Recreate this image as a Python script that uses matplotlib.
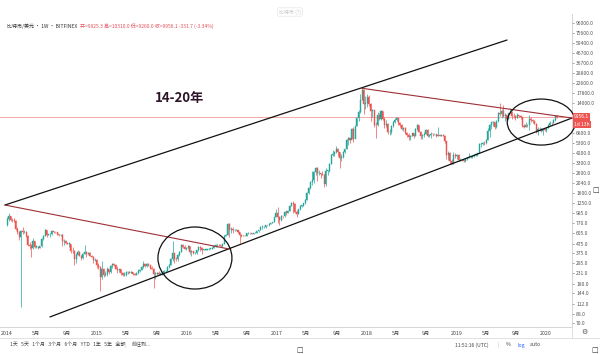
import numpy as np
import pandas as pd
import matplotlib
matplotlib.use('Agg')
import matplotlib.pyplot as plt
import matplotlib.dates as mdates
from matplotlib.patches import Ellipse
from matplotlib.lines import Line2D

plt.rcParams['font.family'] = ['Noto Sans CJK SC', 'DejaVu Sans']

# ---------------- data (weekly BTC/USD, Bitfinex) ----------------
first_week = '2013-12-30'
open_first = 740.0

close_2014 = [850, 920, 840, 830, 820, 680, 620, 560, 640, 630, 630, 565, 460, 450, 430, 500, 440, 440,
              430, 445, 530, 570, 650, 590, 595, 600, 635, 625, 620, 595, 585, 590, 500, 500, 480, 475,
              475, 400, 395, 330, 360, 390, 355, 335, 365, 385, 365, 375, 350, 345, 320, 320]
high_2014 = [890, 1000, 930, 880, 870, 830, 710, 640, 660, 700, 650, 640, 590, 490, 465, 540, 510, 455,
             450, 450, 540, 590, 670, 660, 600, 610, 650, 640, 630, 630, 600, 600, 595, 525, 515, 490,
             490, 475, 440, 410, 375, 410, 395, 360, 380, 460, 400, 390, 385, 360, 350, 335]
low_2014 = [730, 820, 820, 790, 790, 660, 600, 520, 102, 600, 610, 550, 450, 420, 340, 420, 430, 425,
            420, 430, 440, 520, 565, 560, 580, 550, 590, 610, 605, 590, 570, 575, 450, 460, 470, 465,
            440, 380, 380, 280, 300, 360, 350, 320, 330, 370, 345, 365, 350, 340, 300, 315]

close_2015 = [280, 270, 210, 255, 225, 230, 260, 240, 275, 290, 285, 260, 250, 255, 235, 225, 225, 240,
              240, 235, 240, 230, 225, 235, 245, 250, 270, 290, 275, 290, 280, 265, 260, 230, 230, 235,
              230, 230, 235, 245, 245, 270, 285, 325, 380, 330, 325, 360, 390, 455, 440, 420]
high_2015 = [325, 300, 275, 310, 265, 245, 270, 260, 280, 300, 300, 290, 275, 260, 260, 240, 240, 245,
             245, 245, 245, 240, 235, 240, 255, 255, 275, 310, 295, 295, 295, 285, 275, 265, 240, 240,
             245, 235, 240, 250, 250, 275, 290, 335, 500, 380, 340, 365, 400, 465, 470, 460]
low_2015 = [265, 260, 152, 200, 210, 215, 215, 230, 235, 265, 275, 255, 235, 240, 220, 215, 215, 215,
            230, 232, 232, 225, 220, 222, 230, 240, 250, 265, 270, 270, 275, 260, 255, 162, 200, 225,
            225, 225, 225, 230, 240, 245, 265, 280, 315, 300, 310, 315, 355, 385, 430, 415]

close_2016 = [430, 450, 385, 400, 375, 375, 405, 440, 430, 410, 410, 410, 415, 420, 420, 430, 450, 460,
              460, 455, 445, 470, 575, 580, 760, 660, 670, 650, 660, 660, 620, 590, 570, 575, 570, 605,
              605, 605, 600, 615, 615, 640, 655, 700, 700, 700, 740, 735, 765, 775, 790, 895]
high_2016 = [440, 460, 450, 410, 400, 390, 410, 445, 445, 440, 420, 420, 420, 425, 425, 432, 455, 470,
             465, 465, 460, 480, 585, 600, 780, 770, 700, 705, 675, 670, 665, 630, 600, 585, 585, 610,
             630, 612, 610, 618, 620, 645, 660, 720, 740, 720, 750, 750, 770, 780, 795, 900]
low_2016 = [405, 420, 370, 355, 370, 365, 370, 400, 400, 370, 405, 405, 408, 410, 415, 418, 428, 440,
            440, 445, 435, 440, 465, 570, 580, 550, 610, 610, 640, 650, 610, 480, 560, 565, 565, 565,
            600, 600, 595, 595, 605, 610, 630, 650, 680, 690, 690, 725, 725, 755, 770, 790]

close_2017 = [1000, 910, 830, 925, 920, 1020, 1000, 1050, 1170, 1270, 1230, 1020, 970, 1080, 1180, 1180,
              1250, 1370, 1600, 1800, 2100, 2200, 2650, 2950, 2600, 2600, 2550, 2500, 1990, 2750, 2750,
              3250, 4000, 4100, 4350, 4600, 4300, 3700, 3800, 4350, 4600, 5700, 6000, 5750, 7400, 5950,
              8000, 9700, 11300, 15200, 19100, 13800]
high_2017 = [1100, 1150, 930, 935, 930, 1040, 1060, 1060, 1200, 1290, 1330, 1250, 1070, 1100, 1200, 1210,
             1260, 1380, 1640, 1850, 2150, 2700, 2700, 3000, 2980, 2800, 2600, 2700, 2550, 2950, 2800,
             3300, 4100, 4500, 4400, 4980, 4700, 4350, 4100, 4400, 4650, 5850, 6200, 6100, 7600, 7900,
             8050, 9750, 11800, 17200, 19900, 19400]
low_2017 = [890, 770, 750, 820, 880, 910, 940, 990, 1050, 1160, 1000, 1000, 900, 960, 1070, 1150,
            1170, 1240, 1350, 1550, 1750, 1950, 2050, 2500, 2150, 2450, 2300, 2450, 1850, 1900, 2450,
            2650, 3200, 3950, 3900, 4250, 3900, 2950, 3500, 3700, 4150, 4600, 5100, 5400, 5950, 5500,
            6000, 8000, 9000, 11100, 15000, 10700]

close_2018 = [14000, 16200, 13700, 11600, 11700, 8300, 8200, 10500, 9600, 11500, 9600, 8200, 8500, 6900,
              7000, 8000, 8900, 9400, 9700, 8700, 8200, 7400, 7700, 6800, 6500, 6150, 6400, 6750, 6350,
              7400, 8200, 7000, 6300, 6500, 6700, 7300, 6250, 6500, 6700, 6600, 6600, 6300, 6500, 6400,
              6450, 6400, 5600, 4000, 4150, 3500, 3250, 4000]
high_2018 = [16500, 17300, 17000, 14000, 12000, 11900, 8800, 11200, 11100, 11700, 11600, 9900, 9200, 8600,
             7500, 8200, 9000, 9800, 9900, 9800, 8900, 8400, 7800, 7800, 6900, 6800, 6500, 6800, 6800,
             7700, 8500, 8300, 7200, 6600, 6900, 7400, 7400, 6600, 6900, 6800, 6700, 6700, 7800, 6600,
             6550, 6600, 6500, 5600, 4450, 4300, 3600, 4300]
low_2018 = [12000, 12800, 12900, 9000, 10000, 7800, 6000, 8100, 9300, 9300, 9200, 7700, 7900, 6600,
            6500, 6600, 7800, 8600, 9000, 8300, 7900, 7300, 7050, 6600, 6150, 5800, 5800, 6400, 6100,
            6300, 7300, 6900, 5900, 5900, 6200, 6600, 6150, 6200, 6100, 6350, 6450, 6150, 6300, 6350,
            6300, 6300, 5300, 3600, 3550, 3250, 3200, 3200]

close_2019 = [3900, 4050, 3550, 3550, 3550, 3450, 3650, 3700, 3850, 3850, 3950, 4050, 4050, 4150, 5200,
              5200, 5350, 5300, 5800, 7100, 8250, 8800, 8800, 7800, 9050, 10900, 10800, 11500, 10300,
              10600, 9500, 11000, 11400, 10300, 10150, 9800, 10400, 10300, 10000, 8100, 7950, 8300, 8250,
              9500, 9300, 9050, 8500, 7000, 7400, 7500, 7100, 7500]
high_2019 = [4250, 4100, 4100, 3750, 3650, 3600, 3700, 3720, 4200, 3950, 3980, 4060, 4100, 4200, 5400,
             5500, 5450, 5650, 5900, 7600, 8400, 8950, 9100, 8800, 9400, 11300, 13900, 12100, 13200,
             11100, 10600, 11100, 12300, 11500, 10950, 10600, 10900, 10450, 10400, 10050, 8500, 8800, 8400,
             10500, 9950, 9550, 9250, 8600, 7850, 7800, 7650, 7600]
low_2019 = [3700, 3650, 3500, 3480, 3450, 3400, 3380, 3580, 3750, 3700, 3700, 3820, 3950, 3950, 4150,
            4900, 5100, 5100, 5250, 5750, 6200, 7500, 8050, 7500, 7600, 8950, 10300, 9700, 10100,
            9100, 9100, 9400, 10900, 9500, 9850, 9400, 9750, 9900, 9600, 7800, 7750, 7850, 7850,
            7300, 8950, 8700, 8350, 6800, 6550, 7100, 7000, 6450]

close_2020 = [7350, 7750, 8200, 8700, 8600, 9350, 10150, 9956.1]
high_2020 = [7700, 7800, 8450, 9000, 8800, 9600, 10200, 10500]
low_2020 = [7150, 6900, 7650, 8100, 8250, 8600, 9150, 9700]

last_price = 9956.1

# axis labels (labels under the price tag are hidden, as in the reference)
y_tick_values = [70, 88, 112, 144, 180, 231, 295, 375, 475, 605, 770, 985, 1250, 1600, 2040, 2600,
                 3300, 4200, 5300, 6800, 8650, 11000, 14000, 17800, 22600, 28800, 36700, 46700,
                 59400, 75600, 96000]
hidden_y_labels = [8650, 11000]
x_tick_dates = ['2014-01-01', '2014-05-01', '2014-09-01', '2015-01-01', '2015-05-01', '2015-09-01',
                '2016-01-01', '2016-05-01', '2016-09-01', '2017-01-01', '2017-05-01', '2017-09-01',
                '2018-01-01', '2018-05-01', '2018-09-01', '2019-01-01', '2019-05-01', '2019-09-01',
                '2020-01-01']
x_tick_labels = ['2014', '5月', '9月', '2015', '5月', '9月', '2016', '5月', '9月', '2017', '5月', '9月',
                 '2018', '5月', '9月', '2019', '5月', '9月', '2020']

# drawn trend lines (date, price) endpoints
upper_channel = (['2013-12-24', '2019-07-26'], [1200, 63800])
lower_channel = (['2014-06-25', '2020-04-15'], [81, 9750])
red_trend_1 = (['2013-12-24', '2016-06-22'], [1200, 416])
red_trend_2 = (['2017-12-11', '2020-04-15'], [20000, 9750])
# ellipse annotations: centre (date, price), size in pixels
ellipses = [('2016-02-04', 335, 74, 62), ('2019-12-12', 8850, 68, 46)]

# ---------------- build ----------------
closes = np.array(close_2014 + close_2015 + close_2016 + close_2017 + close_2018 + close_2019 + close_2020, float)
highs = np.array(high_2014 + high_2015 + high_2016 + high_2017 + high_2018 + high_2019 + high_2020, float)
lows = np.array(low_2014 + low_2015 + low_2016 + low_2017 + low_2018 + low_2019 + low_2020, float)
opens = np.concatenate([[open_first], closes[:-1]])
dates = pd.date_range(first_week, periods=len(closes), freq='W-MON')
xd = mdates.date2num(dates.to_pydatetime()) + 3

W, H = 600, 354
fig = plt.figure(figsize=(6, 3.54), dpi=100)
ax_left, ax_right, ax_top, ax_bot = 0, 572, 14, 327
ax = fig.add_axes([ax_left / W, 1 - ax_bot / H, (ax_right - ax_left) / W, (ax_bot - ax_top) / H])
ax.set_yscale('log')
ax.set_xlim(mdates.datestr2num('2013-12-04'), mdates.datestr2num('2020-04-15'))
ax.set_ylim(63.6, 119400)

up_c, dn_c = '#26a69a', '#ef5350'
up = closes >= opens
cols = np.where(up, up_c, dn_c)
ax.vlines(xd, lows, highs, colors=cols, linewidth=0.5, zorder=3)
bot = np.minimum(opens, closes)
top = np.maximum(opens, closes)
top = np.maximum(top, bot * 1.006)
ax.bar(xd, top - bot, bottom=bot, width=4.2, color=cols, edgecolor=cols, linewidth=0.3, zorder=4)

# current price line
ax.axhline(last_price, color='#f7a8a8', lw=0.7, zorder=2)

def dl(seg, color, lw):
    ax.plot(mdates.datestr2num(seg[0]), seg[1], color=color, lw=lw, zorder=5,
            solid_capstyle='round', clip_on=False)

dl(upper_channel, '#111111', 0.9)
dl(lower_channel, '#111111', 0.9)
dl(red_trend_1, '#9e2f35', 0.8)
dl(red_trend_2, '#9e2f35', 0.8)

axw = ax_right - ax_left
axh = ax_bot - ax_top
to_axes = ax.transData + ax.transAxes.inverted()
for d, p, wpx, hpx in ellipses:
    cx, cy = to_axes.transform((mdates.datestr2num(d), p))
    ax.add_patch(Ellipse((cx, cy), wpx / axw, hpx / axh, transform=ax.transAxes,
                         fill=False, ec='#111111', lw=0.9, zorder=6, clip_on=False))

# axes styling
for s in ['top', 'left']:
    ax.spines[s].set_visible(False)
ax.spines['right'].set_color('#cfcfcf')
ax.spines['bottom'].set_color('#cfcfcf')
ax.spines['right'].set_linewidth(0.6)
ax.spines['bottom'].set_linewidth(0.6)
ax.yaxis.tick_right()
ax.set_yticks(y_tick_values)
ax.set_yticklabels(['' if v in hidden_y_labels else f'{v:.1f}' for v in y_tick_values])
ax.minorticks_off()
ax.tick_params(axis='y', which='both', labelsize=3.6, colors='#555555', length=1.5, width=0.4, pad=1.5)
ax.set_xticks(mdates.datestr2num(x_tick_dates))
ax.set_xticklabels(x_tick_labels)
ax.tick_params(axis='x', labelsize=3.8, colors='#444444', length=0, pad=3)

# right-side price labels
fig.text(574 / W, 1 - 117 / H, f'{last_price:.1f}', fontsize=3.6, color='white', va='center', ha='left',
         bbox=dict(boxstyle='square,pad=0.25', fc='#ef5350', ec='none'))
fig.text(574 / W, 1 - 124.5 / H, '1d 13h', fontsize=3.6, color='white', va='center', ha='left',
         bbox=dict(boxstyle='square,pad=0.25', fc='#ef5350', ec='none'))

# title text
ax.text(180 / axw, 1 - (98 - ax_top) / axh, '14-20年', transform=ax.transAxes, fontsize=9.5,
        fontweight='bold', color='#2e1428', ha='center', va='center')

# header line
fig.text(7 / W, 1 - 26 / H, '比特币/美元 · 1W · BITFINEX', fontsize=3.6, color='#333333', va='center')
fig.text(80 / W, 1 - 26 / H, '开=9925.3 高=10310.0 低=9260.0 收=9956.1 -331.7 (-3.34%)', fontsize=3.6,
         color='#e0525a', va='center')
fig.text(290 / W, 1 - 12 / H, '比特币 (?)', fontsize=3.6, color='#c8c8c8', va='center', ha='center',
         bbox=dict(boxstyle='round,pad=0.3', fc='white', ec='#e6e6e6', lw=0.5))

# framework lines
fig.add_artist(Line2D([0, 1], [1 - 338 / H, 1 - 338 / H], color='#dddddd', lw=0.6))
fig.add_artist(Line2D([572 / W, 572 / W], [1 - 338 / H, 1 - 327 / H], color='#dddddd', lw=0.6))
fig.text(584 / W, 1 - 332 / H, '⚙', fontsize=5, color='#555555', va='center', ha='center', family='DejaVu Sans')

# toolbar
fig.text(10 / W, 1 - 345 / H, '1天   5天   1个月   3个月   6个月   YTD   1年   5年   全部', fontsize=3.6,
         color='#444444', va='center')
fig.text(124 / W, 1 - 345 / H, '|', fontsize=4, color='#bbbbbb', va='center')
fig.text(132 / W, 1 - 345 / H, '前往到...', fontsize=3.6, color='#444444', va='center')
fig.text(455 / W, 1 - 345 / H, '11:51:16 (UTC)', fontsize=3.6, color='#444444', va='center')
fig.text(497 / W, 1 - 345 / H, '|', fontsize=4, color='#bbbbbb', va='center')
fig.text(506 / W, 1 - 345 / H, '%', fontsize=3.8, color='#444444', va='center')
fig.text(517 / W, 1 - 345 / H, 'log', fontsize=3.8, color='#2962ff', va='center')
fig.text(530 / W, 1 - 345 / H, 'auto', fontsize=3.8, color='#444444', va='center')
for (px, py) in [(300, 350), (595, 350), (596, 190)]:
    fig.text(px / W, 1 - py / H, '□', fontsize=5, color='#333333', va='center', ha='center', family='DejaVu Sans')

fig.savefig('out.png', dpi=100, facecolor='white')
